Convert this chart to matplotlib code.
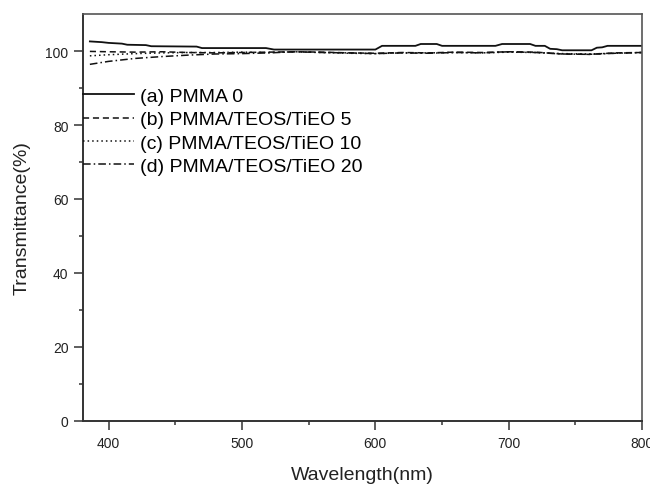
import matplotlib.pyplot as plt
import numpy as np

plt.rcParams['font.family'] = ['Liberation Sans', 'DejaVu Sans']

# solid curve, PMMA 0 (step-like trace)
a_wl = [386, 395, 400, 410, 414, 428, 432, 466, 470, 518, 524, 600, 605, 630, 634, 646,
        650, 690, 695, 716, 720, 727, 731, 736, 740, 762, 766, 770, 774, 800]
a_val = [102.6, 102.4, 102.2, 102.0, 101.7, 101.6, 101.3, 101.2, 100.8, 100.8, 100.4, 100.4,
         101.4, 101.4, 101.9, 101.9, 101.4, 101.4, 101.9, 101.9, 101.4, 101.4, 100.6, 100.5,
         100.2, 100.2, 100.9, 101.0, 101.4, 101.4]

wl = [386, 400, 420, 440, 460, 480, 500, 520, 540, 560, 580, 600, 620, 640, 660, 680,
      700, 720, 740, 760, 780, 800]
b_val = [99.9, 99.8, 99.7, 99.8, 99.6, 99.5, 99.6, 99.7, 99.8, 99.7, 99.5, 99.4, 99.6,
         99.5, 99.7, 99.6, 99.8, 99.7, 99.2, 99.1, 99.5, 99.6]
c_val = [98.7, 99.0, 99.3, 99.5, 99.6, 99.6, 99.7, 99.6, 99.8, 99.6, 99.4, 99.3, 99.5,
         99.5, 99.6, 99.5, 99.7, 99.6, 99.3, 99.2, 99.4, 99.6]
d_val = [96.4, 97.2, 98.0, 98.5, 98.9, 99.2, 99.3, 99.5, 99.8, 99.6, 99.5, 99.3, 99.5,
         99.4, 99.6, 99.5, 99.8, 99.6, 99.2, 99.1, 99.4, 99.6]

labels = ['(a) PMMA 0', '(b) PMMA/TEOS/TiEO 5', '(c) PMMA/TEOS/TiEO 10', '(d) PMMA/TEOS/TiEO 20']

fig = plt.figure(figsize=(6.5, 4.85), dpi=100)
ax = fig.add_axes([0.128, 0.13, 0.86, 0.839])

ax.plot(a_wl, a_val, color='#111111', lw=1.3, ls='-', label=labels[0])
ax.plot(wl, b_val, color='#111111', lw=1.1, ls=(0, (4, 2.5)), label=labels[1])
ax.plot(wl, c_val, color='#111111', lw=1.1, ls=(0, (1, 2)), label=labels[2])
ax.plot(wl, d_val, color='#111111', lw=1.1, ls=(0, (5, 2, 1, 2)), label=labels[3])

ax.set_xlim(381, 800)
ax.set_ylim(0, 110)
ax.set_xticks([400, 500, 600, 700, 800])
ax.set_xticks([450, 550, 650, 750], minor=True)
ax.set_yticks([0, 20, 40, 60, 80, 100])
ax.set_yticks([10, 30, 50, 70, 90], minor=True)

for s in ['top', 'right']:
    ax.spines[s].set_color('#555555')
    ax.spines[s].set_linewidth(1.2)
for s in ['left', 'bottom']:
    ax.spines[s].set_color('#333333')
    ax.spines[s].set_linewidth(1.4)

ax.tick_params(which='major', direction='out', length=6.5, width=1.1, color='#333333',
               labelsize=10, labelcolor='#222222', top=False, right=False)
ax.tick_params(axis='y', which='major', pad=4)
ax.tick_params(axis='x', which='major', pad=4)
ax.tick_params(which='minor', direction='out', length=3, width=1.1, color='#333333',
               top=False, right=False)

ax.set_xlabel('Wavelength(nm)', fontsize=14, color='#222222', labelpad=12)
ax.set_ylabel('Transmittance(%)', fontsize=14, color='#222222', labelpad=11)

ax.legend(loc='upper left', bbox_to_anchor=(0, 0.82), frameon=False, fontsize=14,
          handlelength=2.6, handletextpad=0.3, borderpad=0, borderaxespad=0,
          labelspacing=0.3)

plt.savefig('out.png', dpi=100)
